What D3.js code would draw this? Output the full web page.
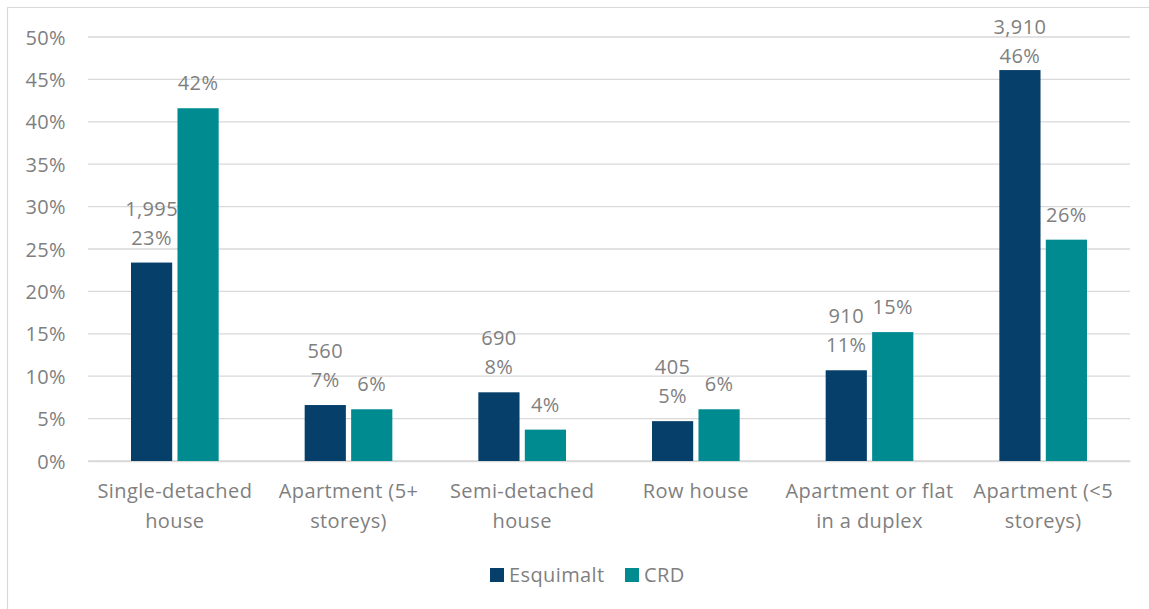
<!DOCTYPE html>
<html>
<head>
<meta charset="utf-8">
<script src="https://cdn.jsdelivr.net/npm/d3@7/dist/d3.min.js"></script>
<style>
  html, body { margin: 0; padding: 0; background: #fff; }
  svg { display: block; }
  text { font-family: "Open Sans", "Noto Sans", sans-serif; fill: #7f7f7f; letter-spacing: 0.4px; }
</style>
</head>
<body>
<svg id="chart" width="1149" height="609"></svg>
<script>
// ---- Data ----
const categories = [
  ["Single-detached", "house"],
  ["Apartment (5+", "storeys)"],
  ["Semi-detached", "house"],
  ["Row house"],
  ["Apartment or flat", "in a duplex"],
  ["Apartment (<5", "storeys)"]
];
const seriesNames = ["Esquimalt", "CRD"];
const esquimaltPct = [0.234, 0.066, 0.081, 0.047, 0.107, 0.461];
const esquimaltCount = [1995, 560, 690, 405, 910, 3910];
const crdPct = [0.416, 0.061, 0.037, 0.061, 0.152, 0.261];
const yTicks = [0, 0.05, 0.10, 0.15, 0.20, 0.25, 0.30, 0.35, 0.40, 0.45, 0.50];
const colors = ["#053f6a", "#008b91"];

// ---- Layout ----
const svg = d3.select("#chart");
const margin = { left: 88, right: 1130, top: 37, bottom: 461 };
const fontSize = 20;

// outer border (top & left visible)
svg.append("path")
  .attr("d", "M7.5,609 L7.5,7.5 L1149,7.5")
  .attr("fill", "none").attr("stroke", "#d9d9d9").attr("stroke-width", 1.2);

const x0 = d3.scaleBand()
  .domain(d3.range(categories.length))
  .range([margin.left, margin.right])
  .paddingInner(0).paddingOuter(0);

const x1 = d3.scaleBand()
  .domain(seriesNames)
  .range([43, x0.bandwidth() - 43])
  .paddingInner(10 / 88);

const y = d3.scaleLinear().domain([0, 0.5]).range([margin.bottom, margin.top]);

// gridlines
svg.append("g").selectAll("line").data(yTicks).join("line")
  .attr("x1", margin.left).attr("x2", margin.right)
  .attr("y1", d => y(d)).attr("y2", d => y(d))
  .attr("stroke", "#d9d9d9").attr("stroke-width", 1.3);

// y axis
const yAxis = d3.axisLeft(y).tickValues(yTicks).tickFormat(d3.format(".0%")).tickSize(0).tickPadding(0);
const yg = svg.append("g").attr("transform", `translate(66,0)`).call(yAxis);
yg.select(".domain").remove();
yg.selectAll("text").attr("font-size", fontSize).attr("font-family", null).attr("fill", "#7f7f7f").attr("dy", "0.35em");

// x axis labels
const xAxis = d3.axisBottom(x0).tickSize(0).tickFormat("");
const xg = svg.append("g").attr("transform", `translate(0,${margin.bottom})`).call(xAxis);
xg.select(".domain").attr("stroke", "#d9d9d9").attr("stroke-width", 1.3);
xg.selectAll(".tick").each(function(d) {
  const t = d3.select(this).append("text")
    .attr("text-anchor", "middle").attr("font-size", fontSize).attr("fill", "#7f7f7f");
  categories[d].forEach((line, i) => {
    t.append("tspan").attr("x", 0).attr("y", 30 + i * 30).attr("dy", "0.35em").text(line);
  });
});

// bars
const seriesData = [esquimaltPct, crdPct];
const groups = svg.append("g").selectAll("g").data(categories.map((c, i) => i)).join("g")
  .attr("transform", i => `translate(${x0(i)},0)`);

groups.selectAll("rect").data(i => seriesNames.map((s, k) => ({ s, k, v: seriesData[k][i], i })))
  .join("rect")
  .attr("x", d => x1(d.s))
  .attr("width", x1.bandwidth())
  .attr("y", d => y(d.v))
  .attr("height", d => y(0) - y(d.v))
  .attr("fill", d => colors[d.k]);

// data labels
const pctFmt = d3.format(".0%");
const cntFmt = d3.format(",");
groups.each(function(i) {
  const g = d3.select(this);
  const ex = x1("Esquimalt") + x1.bandwidth() / 2;
  let pctY = y(esquimaltPct[i]) - 25;
  let cntY = pctY - 29;
  if (cntY < 27) { cntY = 27; pctY = cntY + 29; }
  g.append("text").attr("x", ex).attr("y", cntY).attr("dy", "0.35em")
    .attr("text-anchor", "middle").attr("font-size", fontSize).text(cntFmt(esquimaltCount[i]));
  g.append("text").attr("x", ex).attr("y", pctY).attr("dy", "0.35em")
    .attr("text-anchor", "middle").attr("font-size", fontSize).text(pctFmt(esquimaltPct[i]));
  const cx = x1("CRD") + x1.bandwidth() / 2;
  g.append("text").attr("x", cx).attr("y", y(crdPct[i]) - 25).attr("dy", "0.35em")
    .attr("text-anchor", "middle").attr("font-size", fontSize).text(pctFmt(crdPct[i]));
});

// legend
const legendItems = [
  { name: "Esquimalt", color: colors[0], x: 490 },
  { name: "CRD", color: colors[1], x: 625 }
];
const lg = svg.append("g").selectAll("g").data(legendItems).join("g")
  .attr("transform", d => `translate(${d.x},575)`);
lg.append("rect").attr("x", 0).attr("y", -7).attr("width", 14).attr("height", 14).attr("fill", d => d.color);
lg.append("text").attr("x", 19).attr("y", 0).attr("dy", "0.35em").attr("font-size", fontSize).text(d => d.name);
</script>
</body>
</html>
